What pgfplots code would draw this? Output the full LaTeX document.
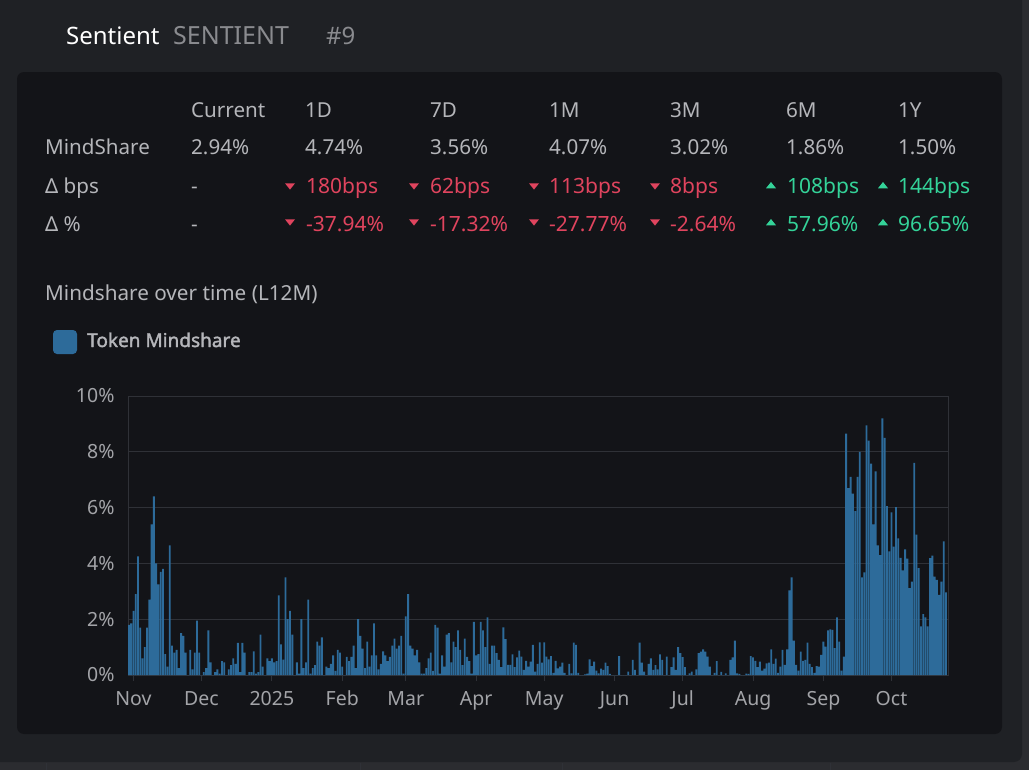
\documentclass[border=0pt]{standalone}
\usepackage{fontspec}
\setmainfont{Noto Sans}
\newfontfamily\legfont{Noto Sans}[FakeBold=1.8]
\usepackage{pgfplots}
\pgfplotsset{compat=1.18}
\usepackage{pgfplotstable}

\definecolor{pagebg}{HTML}{1F2125}
\definecolor{cardbg}{HTML}{131418}
\definecolor{stripbg}{HTML}{2B2C30}
\definecolor{gridc}{HTML}{2F3137}
\definecolor{barblue}{HTML}{2D6B9A}
\definecolor{txt}{HTML}{B5B6BA}
\definecolor{dim}{HTML}{8A8B8F}
\definecolor{tickc}{HTML}{A3A4A8}
\definecolor{downred}{HTML}{E0445E}
\definecolor{upgreen}{HTML}{34D399}

\newcommand\fs[1]{\fontsize{#1bp}{#1bp}\selectfont}

% daily token mindshare in %, day 0 = 1 Nov 2024
\pgfplotstableread{
day val
-2 1.8
-1 1.85
0 2.3
1 2.9
2 4.25
3 1.7
4 0.6
5 1.0
6 1.7
7 2.7
8 5.4
9 6.4
10 4.0
11 3.25
12 3.7
13 3.8
14 0.75
15 0.3
16 4.65
17 1.05
18 0.8
19 0.9
20 0.25
21 1.5
22 1.4
23 0.8
24 0
25 0.9
26 0.2
27 0.8
28 1.95
29 0.8
30 0
31 0.1
32 0.25
33 1.6
34 0.45
35 0
36 0.1
37 0.2
38 0.05
39 0.5
40 0.45
41 0
42 0.2
43 0.35
44 0.6
45 0.4
46 1.15
47 0.1
48 1.15
49 0.8
50 0
51 0.1
52 0.1
53 0.85
54 0.05
55 0.1
56 1.45
57 0.3
58 0
59 0.6
60 0.5
61 0.6
62 0.45
63 0.5
64 2.85
65 1.1
66 0.55
67 3.5
68 2.0
69 2.3
70 1.45
71 0
72 0.45
73 0.05
74 2.0
75 0.25
76 0.45
77 2.7
78 0.05
79 0.25
80 0.35
81 1.2
82 1.05
83 1.35
84 0
85 0.3
86 0.25
87 0.4
88 0.7
89 0.15
90 0.9
91 0.8
92 0.3
93 0
94 0.65
95 0.5
96 0.65
97 1.05
98 0.25
99 2.0
100 1.4
101 0.95
102 0.25
103 1.2
104 0.3
105 0.7
106 1.85
107 0.7
108 0.2
109 0.4
110 0.85
111 0.7
112 0.5
113 0.65
114 1.05
115 1.3
116 0.95
117 1.05
118 1.4
119 0.05
120 2.1
121 2.9
122 1.05
123 0.95
124 0.7
125 0.9
126 0.45
127 0.05
128 0.05
129 0.25
130 0.6
131 0.8
132 0.15
133 1.8
134 1.7
135 0.05
136 0.7
137 0.3
138 1.45
139 1.5
140 0.45
141 1.2
142 1.0
143 1.6
144 0.9
145 0.35
146 1.3
147 0.65
148 0.5
149 0.05
150 1.9
151 0.7
152 0.75
153 1.9
154 1.6
155 1.0
156 2.07
157 0.4
158 1.05
159 1.05
160 0.78
161 0.54
162 0.28
163 1.71
164 1.29
165 0.36
166 0.36
167 0.74
168 0.28
169 0.63
170 0.87
171 0.66
172 0.18
173 0.51
174 0.3
175 0.48
176 1.08
177 0.12
178 0.4
179 1.17
180 0.44
181 1.17
182 0.66
183 0.56
184 0.68
185 0.08
186 0.51
187 0.24
188 0.3
189 0.44
190 0.08
191 0
192 0.4
193 0.06
194 1.16
195 1.08
196 0.08
197 0
198 0
199 0.02
200 0.05
201 0.56
202 0.32
203 0.48
204 0.16
205 0.06
206 0.23
207 0.18
208 0.44
209 0.32
210 0.04
211 0
212 0
213 0
214 0.68
215 0
216 0
217 0
218 0.12
219 0
220 0.54
221 0.18
222 0
223 1.16
224 0.44
225 0.12
226 0
227 0.4
228 0.6
229 0.18
230 0.35
231 0.2
232 0.74
233 0.54
234 0
235 0.66
236 0
237 0.28
238 0.63
239 0.18
240 1.0
241 0.78
242 0.64
243 0.28
244 0
245 0.06
246 0.12
247 0
248 0.2
249 0.78
250 0.84
251 0.92
252 0.84
253 0.66
254 0.3
255 0
256 0.08
257 0.5
258 0
259 0.11
260 0
261 0.06
262 0
263 0.54
264 0.63
265 1.23
266 0.06
267 0.04
268 0
269 0
270 0.05
271 0.04
272 0.68
273 0.63
274 0.51
275 0.28
276 0.48
277 0.16
278 0.23
279 0.42
280 0.44
281 0.92
282 0.4
283 0.59
284 0.08
285 0.3
286 0.9
287 0.36
288 0.92
289 3.03
290 3.5
291 1.23
292 0.36
293 0.16
294 0.84
295 0.51
296 0.54
297 1.16
298 0.4
299 0.28
300 0.08
301 0.32
302 0.3
303 0.72
304 1.2
305 1.02
306 1.6
307 1.64
308 1.62
309 0.96
310 2.07
311 1.2
312 0.16
313 0.66
314 8.65
315 6.7
316 7.1
317 6.5
318 5.87
319 7.1
320 8.0
321 3.5
322 3.68
323 8.95
324 8.4
325 7.58
326 5.4
327 7.3
328 4.65
329 4.3
330 9.2
331 8.5
332 6.05
333 4.43
334 5.83
335 4.6
336 6.02
337 4.9
338 4.2
339 3.75
340 4.5
341 4.17
342 3.11
343 3.35
344 7.6
345 5.03
346 3.83
347 1.74
348 2.18
349 2.07
350 1.74
351 4.19
352 4.28
353 3.53
354 3.41
355 2.87
356 3.35
357 4.79
358 2.96
}\mindshare

\begin{document}
\begin{tikzpicture}
\useasboundingbox (0,0) rectangle (1029bp,-770bp);
\begin{scope}[x=1bp,y=-1bp]
  % page and card
  \fill[stripbg] (0,0) rectangle (1029,770);
  \fill[pagebg, rounded corners=8bp] (-20,-20) rectangle (1022,762);
  \foreach \lx in {46,360,562,830} \draw[gridc, line width=1bp] (\lx,763) -- (\lx,770);
  \fill[cardbg, rounded corners=7bp] (17,72) rectangle (1002,734);

  % heading
  \node[anchor=base west, inner sep=0, text=white, font=\fs{24}] at (66,44) {Sentient};
  \node[anchor=base west, inner sep=0, text=dim, font=\fs{25}] at (173,44) {SENTIENT};
  \node[anchor=base west, inner sep=0, text=dim, font=\fs{24}] at (326,44) {\#9};

  % summary table
  \begin{scope}[every node/.style={anchor=base west, inner sep=0, text=txt, font=\fs{20.6}}]
    \node at (191,117) {Current};
    \node at (305,117) {1D};
    \node at (430,117) {7D};
    \node at (549,117) {1M};
    \node at (670,117) {3M};
    \node at (786,117) {6M};
    \node at (898,117) {1Y};
    \node at (45,154) {MindShare};
    \node at (191,154) {2.94\%};
    \node at (305,154) {4.74\%};
    \node at (430,154) {3.56\%};
    \node at (549,154) {4.07\%};
    \node at (670,154) {3.02\%};
    \node at (786,154) {1.86\%};
    \node at (898,154) {1.50\%};
    \node at (45,193) {Δ bps};
    \node at (191,193) {-};
    \node at (45,231) {Δ \%};
    \node at (191,231) {-};
  \end{scope}
  \begin{scope}[every node/.style={anchor=base west, inner sep=0, font=\fs{21}}]
    \node[text=downred] at (306,193) {180bps};
    \node[text=downred] at (430,193) {62bps};
    \node[text=downred] at (549,193) {113bps};
    \node[text=downred] at (670,193) {8bps};
    \node[text=upgreen] at (787,193) {108bps};
    \node[text=upgreen] at (898,193) {144bps};
    \node[text=downred] at (306,231) {-37.94\%};
    \node[text=downred] at (430,231) {-17.32\%};
    \node[text=downred] at (549,231) {-27.77\%};
    \node[text=downred] at (670,231) {-2.64\%};
    \node[text=upgreen] at (787,231) {57.96\%};
    \node[text=upgreen] at (898,231) {96.65\%};
  \end{scope}
  \foreach \tx in {290,414,534,655} {
    \fill[downred] (\tx-5,183.3) -- (\tx+5,183.3) -- (\tx,189.6) -- cycle;
    \fill[downred] (\tx-5,219.3) -- (\tx+5,219.3) -- (\tx,225.6) -- cycle;
  }
  \foreach \tx in {771,883} {
    \fill[upgreen] (\tx-5,188.3) -- (\tx+5,188.3) -- (\tx,182) -- cycle;
    \fill[upgreen] (\tx-5,225.3) -- (\tx+5,225.3) -- (\tx,219) -- cycle;
  }

  % chart title and legend
  \node[anchor=base west, inner sep=0, text=txt, font=\fs{20.7}] at (45,300) {Mindshare over time (L12M)};
  \fill[barblue, rounded corners=4bp] (53,330) rectangle (77,354);
  \node[anchor=base west, inner sep=0, text=txt, font=\legfont\fs{19}] at (87,347) {Token Mindshare};
\end{scope}

\begin{axis}[
  at={(128bp,-675bp)}, anchor=south west,
  scale only axis, width=820bp, height=279bp,
  xmin=-2.4, xmax=358.9, ymin=0, ymax=10,
  ybar, bar width=0.82,
  axis line style={gridc, line width=1bp},
  ymajorgrids, grid style={gridc, line width=1bp},
  ytick={0,2,4,6,8,10},
  yticklabels={0\%,2\%,4\%,6\%,8\%,10\%},
  xtick={0,30,61,92,120,151,181,212,242,273,304,334},
  xticklabels={Nov,Dec,2025,Feb,Mar,Apr,May,Jun,Jul,Aug,Sep,Oct},
  xtick pos=bottom, ytick pos=left,
  tick align=outside, major tick length=6bp,
  xtick style={gridc, line width=1bp},
  ytick style={draw=none},
  ticklabel style={font=\fs{19.5}, text=tickc},
  xticklabel style={anchor=north, inner sep=0pt, text height=14bp, text depth=0pt, yshift=-10bp},
  yticklabel style={xshift=-4bp},
]
\addplot[fill=barblue, draw=none] table[x=day, y=val] {\mindshare};
\end{axis}
\end{tikzpicture}
\end{document}
